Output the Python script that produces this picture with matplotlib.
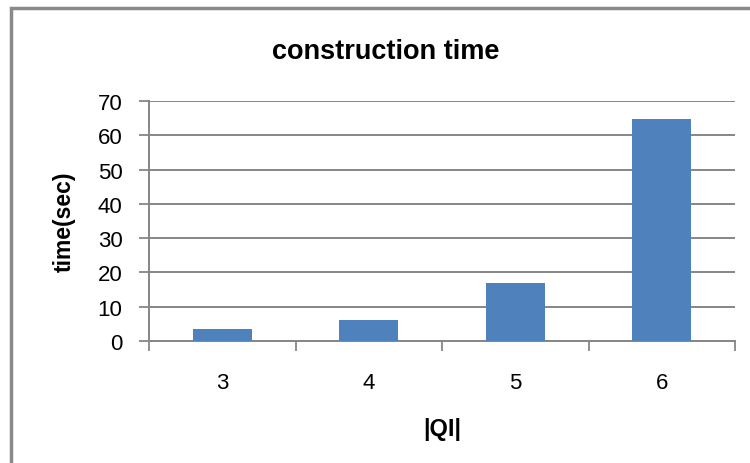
import numpy as np
import matplotlib
matplotlib.use("Agg")
import matplotlib.pyplot as plt
from matplotlib.patches import Rectangle

plt.rcParams['font.family'] = ['Liberation Sans', 'DejaVu Sans']

# data
categories = ['3', '4', '5', '6']
times = [3.5, 6.2, 16.9, 64.7]
yticks = [0, 10, 20, 30, 40, 50, 60, 70]

grey = '#868686'
bar_color = '#4F81BD'

fig = plt.figure(figsize=(7.5, 4.64), dpi=100)
ax = fig.add_axes([149 / 750, 1 - 342 / 464, 586 / 750, 240 / 464])

x = np.arange(len(categories))
ax.bar(x, times, width=0.4, color=bar_color, zorder=3)

ax.set_xlim(-0.5, len(categories) - 0.5)
ax.set_ylim(0, 70)
ax.set_yticks(yticks)
ax.yaxis.grid(True, color=grey, linewidth=1.4, zorder=0)
ax.set_axisbelow(True)

# category boundaries as major ticks, labels on minor ticks at centers
ax.set_xticks(np.arange(-0.5, len(categories), 1.0))
ax.set_xticklabels([])
ax.set_xticks(x, minor=True)
ax.set_xticklabels(categories, minor=True)
ax.tick_params(axis='x', which='major', direction='out', length=7, color=grey, width=1.3)
ax.tick_params(axis='x', which='minor', length=0, pad=22, labelsize=16)
ax.tick_params(axis='y', direction='out', length=7, color=grey, width=1.3, labelsize=16, pad=12)

for s in ['top', 'right']:
    ax.spines[s].set_visible(False)
for s in ['left', 'bottom']:
    ax.spines[s].set_color(grey)
    ax.spines[s].set_linewidth(1.4)

# title centred over the whole chart area, not the plot area
fig.text(386 / 750, 1 - 52 / 464, 'construction time', fontsize=19.5,
         fontweight='bold', ha='center', va='center')
ax.set_xlabel('|QI|', fontsize=17, fontweight='bold', va='center')
ax.xaxis.set_label_coords(0.5, -(430 - 342) / 240)
ax.set_ylabel('time(sec)', fontsize=16.5, fontweight='bold', va='center', ha='center')
ax.yaxis.set_label_coords(-(149 - 64) / 586, 0.5)

# chart-area border (Excel style)
fig.patches.append(Rectangle((10.5 / 750, -0.05), 1.1, 1 - 8.5 / 464 + 0.05,
                             transform=fig.transFigure, fill=False,
                             edgecolor='#898989', linewidth=2.5))

fig.savefig('out.png', dpi=100)
